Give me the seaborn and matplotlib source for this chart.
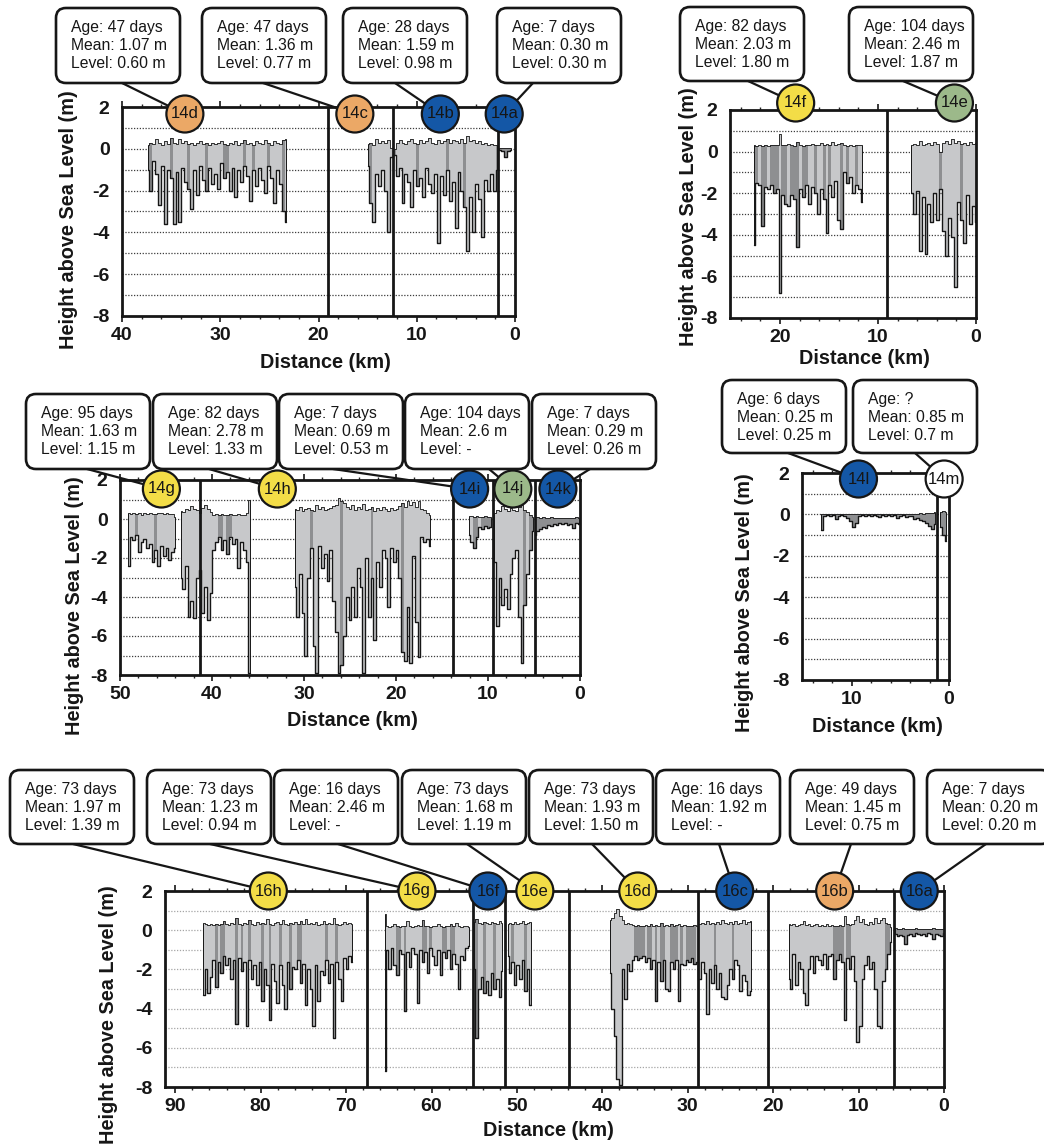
import numpy as np
import pandas as pd
import matplotlib
matplotlib.use("Agg")
import matplotlib.pyplot as plt
import seaborn as sns
from matplotlib.patches import Circle, FancyBboxPatch
from matplotlib.lines import Line2D
from matplotlib.transforms import IdentityTransform
from matplotlib.ticker import MultipleLocator

# ------------------------------------------------------------------
# Ice surface (top) and ice bottom (base) heights above sea level, m,
# sampled every STEP_KM along the track, starting at *_start km.
# Flag strings mark samples classed as level ice ("1").
# ------------------------------------------------------------------
STEP_KM = 0.3

# --- Track 14a-14d ---
a1_start = 37.4
a1_top = [0.2, 0.3, 0.25, 0.45, 0.3, 0.2, 0.35, 0.25, 0.5, 0.3,
          0.25, 0.45, 0.3, 0.35, 0.25, 0.3, 0.2, 0.3, 0.35, 0.25,
          0.3, 0.2, 0.3, 0.25, 0.3, 0.35, 0.25, 0.2, 0.3, 0.25,
          0.35, 0.2, 0.3, 0.4, 0.25, 0.3, 0.2, 0.35, 0.3, 0.25,
          0.4, 0.3, 0.2, 0.35, 0.3, 0.25, 0.4, 0.45]
a1_base = [-1.0, -2.0, -0.6, -1.2, -2.7, -0.8, -3.6, -1.0, -1.4, -3.6,
           -1.1, -3.5, -0.9, -1.6, -1.9, -2.9, -1.0, -2.2, -0.8, -1.5,
           -2.0, -0.9, -1.7, -1.2, -1.9, -0.7, -1.4, -1.1, -2.0, -0.9,
           -2.3, -1.0, -1.6, -0.8, -1.3, -2.5, -1.0, -1.8, -0.9, -1.5,
           -2.1, -0.8, -1.4, -2.6, -1.0, -1.7, -3.0, -3.5]
a1_level = "010000001000001000001000001100000100100001000010"

a2_start = 15.0
a2_top = [0.25, 0.3, 0.2, 0.45, 0.3, 0.35, 0.3, 0.4, 0.05, 0.0,
          0.3, 0.4, 0.3, 0.25, 0.35, 0.45, 0.3, 0.25, 0.4, 0.3,
          0.35, 0.5, 0.3, 0.25, 0.4, 0.3, 0.35, 0.45, 0.3, 0.4,
          0.35, 0.3, 0.45, 0.3, 0.6, 0.35, 0.4, 0.3, 0.35, 0.25,
          0.3, 0.2, 0.25, 0.2, 0.2]
a2_base = [-0.8, -2.6, -3.5, -1.2, -1.8, -1.0, -2.0, -4.0, -0.4, -0.3,
           -1.3, -0.9, -2.6, -1.2, -1.6, -2.8, -1.0, -1.8, -1.4, -2.3,
           -0.9, -1.7, -2.1, -1.2, -4.5, -1.3, -2.2, -1.0, -2.5, -1.6,
           -3.8, -1.1, -2.0, -2.8, -4.9, -2.3, -4.0, -1.7, -2.4, -4.2,
           -1.5, -2.0, -1.2, -2.0, -1.0]
a2_level = "010000000100000001000000000100000100000000001110"

a3_start = 1.6
a3_top = [0.05, 0.05, 0.05, 0.04, 0.05]
a3_base = [-0.05, -0.1, -0.4, -0.1, -0.05]
a3_level = ""

# --- Track 14e-14f ---
b1_start = 22.7
b1_top = [0.3, 0.25, 0.3, 0.25, 0.3, 0.28, 0.3, 0.32, 0.3, 0.85,
          0.3, 0.3, 0.35, 0.3, 0.25, 0.45, 0.3, 0.28, 0.3, 0.3,
          0.35, 0.32, 0.3, 0.4, 0.3, 0.35, 0.3, 0.45, 0.3, 0.35,
          0.4, 0.3, 0.25, 0.3, 0.28, 0.3, 0.3, 0.3]
b1_base = [-4.5, -1.5, -1.6, -3.6, -1.7, -1.8, -1.6, -2.0, -1.8, -6.8,
           -2.1, -2.5, -2.6, -2.1, -2.3, -4.6, -1.8, -2.2, -1.6, -2.5,
           -1.7, -2.0, -3.0, -1.8, -2.3, -3.9, -1.6, -2.2, -1.4, -3.3,
           -3.7, -1.0, -1.5, -1.2, -2.0, -1.6, -1.8, -2.4]
b1_level = "11011011101101110110010010100010100100"

b2_start = 6.6
b2_top = [0.3, 0.35, 0.3, 0.5, 0.3, 0.35, 0.4, 0.3, 0.45, 0.35,
          0.0, 0.4, 0.5, 0.35, 0.6, 0.4, 0.5, 0.35, 0.4, 0.3,
          0.45, 0.35, 0.4]
b2_base = [-2.0, -3.0, -1.9, -4.8, -2.2, -4.9, -2.5, -3.4, -2.0, -3.3,
           -1.8, -3.8, -5.0, -3.2, -4.1, -6.5, -2.4, -3.3, -4.4, -2.1,
           -3.5, -2.6, -3.4]
b2_level = "00000000001000000100000"

# --- Track 14g-14k ---
c1_start = 49.1
c1_top = [0.3, 0.25, 0.3, 0.25, 0.3, 0.2, 0.3, 0.25, 0.3, 0.28,
          0.25, 0.3, 0.3, 0.25, 0.3, 0.28, 0.25, 0.1]
c1_base = [-2.4, -0.9, -1.1, -0.8, -1.7, -1.2, -1.0, -1.5, -1.3, -2.2,
           -1.6, -2.4, -1.4, -1.9, -1.5, -2.1, -1.7, -1.5]
c1_level = "000100000010000000"

c2_start = 43.4
c2_top = [0.4, 0.35, 0.5, 0.45, 0.65, 0.5, 0.45, 0.3, 0.55, 0.7,
          0.5, 0.35, 0.2, 0.25, 0.2, 0.25, 0.2, 0.2, 0.25, 0.2,
          0.2, 0.25, 0.2, 0.2, 0.3, 1.0]
c2_base = [-3.0, -3.6, -2.4, -5.0, -4.2, -5.1, -3.0, -2.6, -4.8, -3.5,
           -5.2, -3.8, -1.6, -1.2, -0.9, -1.6, -1.1, -1.8, -0.9, -1.3,
           -1.0, -2.5, -1.2, -1.6, -2.2, -7.9]
c2_level = "00000000000000110110000000"

c3_start = 31.0
c3_top = [0.5, 0.45, 0.6, 0.4, 0.5, 0.55, 0.45, 0.4, 0.7, 0.5,
          0.6, 0.45, 0.5, 0.55, 0.65, 0.7, 1.1, 0.9, 0.8, 0.6,
          0.5, 0.7, 0.45, 0.6, 0.5, 0.75, 0.45, 0.5, 0.6, 0.4,
          0.55, 0.45, 0.6, 0.5, 0.4, 0.55, 0.45, 0.5, 0.65, 0.8,
          0.6, 0.9, 0.7, 0.85, 0.6, 0.9, 0.5, 0.45, 0.3, 0.2]
c3_base = [-3.5, -5.0, -2.8, -4.8, -7.0, -3.0, -1.5, -6.5, -7.9, -1.4,
           -2.5, -1.8, -3.2, -1.6, -4.2, -5.8, -7.9, -7.5, -6.0, -4.0,
           -5.2, -3.5, -5.0, -2.5, -3.5, -7.9, -2.0, -5.0, -3.0, -6.2,
           -2.2, -3.5, -1.6, -2.0, -4.5, -1.5, -2.2, -1.6, -3.0, -6.8,
           -7.3, -4.5, -7.4, -1.9, -5.3, -7.1, -0.9, -1.2, -1.0, -1.4]
c3_level = "00000010000000000100000000001000000000010000000000"

c4_start = 12.1
c4_top = [0.15, 0.15, 0.1, 0.15, 0.1, 0.1, 0.15, 0.1, 0.1]
c4_base = [-0.8, -1.2, -1.5, -0.9, -0.4, -0.5, -0.35, -0.45, -0.4]
c4_level = "001101111"

c5_start = 9.3
c5_top = [0.3, 0.45, 0.4, 0.65, 0.5, 0.4, 0.55, 0.45, 0.4, 0.6,
          0.7, 0.45, 0.35, 0.2, 0.1]
c5_base = [-2.2, -5.5, -3.0, -4.4, -3.6, -4.6, -2.8, -2.0, -1.6, -5.0,
           -7.4, -4.4, -2.8, -1.6, -0.6]
c5_level = "000000000001011"

c6_start = 4.9
c6_top = [0.08, 0.1, 0.05, 0.08, 0.05, 0.05, 0.08, 0.05, 0.05, 0.06,
          0.05, 0.05, 0.07, 0.05, 0.05, 0.08, 0.05]
c6_base = [-0.8, -0.6, -0.5, -0.4, -0.45, -0.3, -0.35, -0.25, -0.3, -0.2,
           -0.25, -0.2, -0.3, -0.25, -0.45, -0.2, -0.25]
c6_level = ""

# --- Track 14l-14m ---
d1_start = 13.1
d1_top = [0.03, 0.02, 0.03, 0.02, 0.03, 0.02, 0.02, 0.03, 0.02, 0.03,
          0.02, 0.03, 0.02, 0.02, 0.03, 0.02, 0.03, 0.02, 0.02, 0.03,
          0.02, 0.03, 0.02, 0.02, 0.03, 0.02, 0.03, 0.02, 0.02, 0.03,
          0.02, 0.03, 0.04, 0.03, 0.05, 0.04, 0.06, 0.05, 0.08, 0.1]
d1_base = [-0.75, -0.1, -0.05, -0.08, -0.05, -0.2, -0.06, -0.05, -0.1, -0.15,
           -0.3, -0.6, -0.4, -0.1, -0.05, -0.08, -0.05, -0.1, -0.05, -0.06,
           -0.12, -0.05, -0.06, -0.05, -0.1, -0.05, -0.15, -0.06, -0.05, -0.12,
           -0.08, -0.1, -0.2, -0.15, -0.25, -0.3, -0.4, -0.55, -0.7, -0.45]
d1_level = ""

d2_start = 0.9
d2_top = [0.1, 0.15, 0.12]
d2_base = [-0.6, -1.0, -1.3]
d2_level = ""

# --- Track 16a-16h ---
e1_start = 86.7
e1_top = [0.35, 0.3, 0.25, 0.3, 0.28, 0.3, 0.25, 0.3, 0.45, 0.3,
          0.25, 0.35, 0.3, 0.6, 0.3, 0.28, 0.35, 0.3, 0.5, 0.3,
          0.28, 0.4, 0.3, 0.35, 0.3, 0.55, 0.3, 0.28, 0.35, 0.4,
          0.3, 0.5, 0.3, 0.28, 0.35, 0.3, 0.4, 0.3, 0.45, 0.3,
          0.55, 0.3, 0.35, 0.3, 0.4, 0.28, 0.3, 0.45, 0.3, 0.35,
          0.3, 0.6, 0.3, 0.28, 0.3, 0.4, 0.3, 0.35, 0.3]
e1_base = [-3.3, -2.0, -3.2, -2.4, -1.5, -2.9, -1.6, -2.2, -1.3, -1.8,
           -1.4, -2.5, -1.5, -4.8, -1.4, -2.1, -1.6, -4.9, -1.5, -2.5,
           -1.8, -2.8, -1.6, -3.6, -2.0, -2.8, -4.6, -1.7, -2.6, -3.7,
           -1.8, -2.8, -4.0, -1.6, -3.0, -1.9, -2.0, -1.5, -2.7, -1.7,
           -3.8, -2.0, -3.0, -4.9, -1.8, -3.6, -2.1, -2.3, -1.5, -2.7,
           -1.7, -5.5, -1.6, -2.5, -3.6, -1.4, -2.0, -1.3, -1.6]
e1_level = "00000101100001010010000100100010001001100000000010001000000"

e2_start = 65.5
e2_top = [0.85, 0.2, 0.18, 0.2, 0.3, 0.2, 0.18, 0.2, 0.22, 0.45,
          0.2, 0.18, 0.2, 0.25, 0.2, 0.5, 0.2, 0.2, 0.18, 0.22,
          0.2, 0.3, 0.2, 0.18, 0.2, 0.22, 0.3, 0.2, 0.35, 0.2,
          0.18, 0.2, 0.2, 0.18]
e2_base = [-7.2, -1.0, -2.0, -0.9, -1.8, -2.3, -1.0, -1.2, -4.1, -1.1,
           -1.9, -0.9, -1.2, -3.7, -1.0, -1.6, -1.1, -2.2, -0.9, -1.3,
           -1.8, -1.0, -2.3, -1.1, -1.4, -1.0, -2.0, -1.2, -1.7, -3.0,
           -1.3, -1.5, -0.9, -0.8]
e2_level = "0000011010000001101000011011000000"

e3_start = 55.0
e3_top = [0.4, 0.55, 0.35, 0.3, 0.4, 0.35, 0.3, 0.4, 0.35, 0.3, 0.45, 0.35]
e3_base = [-2.0, -5.5, -3.0, -2.4, -3.2, -2.6, -3.3, -2.2, -3.0, -2.5, -3.4, -2.1]
e3_level = "010010001000"

e4_start = 51.1
e4_top = [0.3, 0.35, 0.3, 0.4, 0.3, 0.35, 0.45, 0.3, 0.35, 0.4]
e4_base = [-1.3, -2.2, -1.6, -2.8, -1.8, -2.5, -1.5, -3.1, -2.0, -3.8]
e4_level = "0010000100"

e5_start = 39.1
e5_top = [0.5, 0.6, 0.9, 1.07, 0.7, 0.5, 0.3, 0.35, 0.3, 0.25,
          0.22, 0.25, 0.22, 0.2, 0.25, 0.22, 0.3, 0.22, 0.25, 0.2,
          0.35, 0.22, 0.25, 0.22, 0.3, 0.22, 0.25, 0.3, 0.22, 0.25,
          0.22, 0.2, 0.22, 0.25, 0.22, 0.3, 0.35, 0.3, 0.45, 0.3,
          0.35, 0.3, 0.4, 0.3, 0.5, 0.35, 0.3, 0.4, 0.3, 0.45,
          0.3, 0.35, 0.5, 0.3, 0.4, 0.45]
e5_base = [-2.2, -4.0, -5.4, -7.6, -7.9, -2.0, -3.5, -1.7, -2.1, -1.5,
           -1.3, -1.5, -1.4, -1.3, -1.6, -1.4, -2.0, -1.5, -3.6, -1.6,
           -2.6, -1.5, -3.0, -3.1, -1.6, -2.0, -1.5, -3.6, -1.7, -1.8,
           -1.5, -1.6, -1.4, -1.7, -1.6, -2.5, -1.6, -2.2, -4.3, -2.0,
           -2.7, -1.8, -3.0, -2.2, -3.4, -3.5, -2.8, -2.0, -2.5, -1.5,
           -1.8, -3.1, -2.3, -2.6, -3.3, -3.1]
e5_level = "00000000001111011010110011101011110000000100000010000000"

e6_start = 18.2
e6_top = [0.3, 0.25, 0.3, 0.22, 0.25, 0.3, 0.45, 0.25, 0.3, 0.22,
          0.25, 0.3, 0.22, 0.25, 0.2, 0.3, 0.22, 0.25, 0.2, 0.22,
          0.25, 0.2, 0.75, 0.3, 0.25, 0.3, 0.5, 0.75, 0.4, 0.55,
          0.3, 0.25, 0.4, 0.3, 0.6, 0.35, 0.5, 0.6, 0.35, 0.3,
          0.15]
e6_base = [-2.5, -3.0, -1.2, -2.8, -1.6, -2.0, -3.2, -3.8, -2.0, -1.3,
           -2.2, -1.3, -1.5, -1.8, -1.2, -2.0, -1.3, -1.2, -2.5, -1.5,
           -1.2, -1.6, -4.6, -1.4, -2.0, -1.3, -2.6, -5.7, -4.9, -2.5,
           -1.8, -1.3, -2.0, -1.6, -3.0, -4.9, -5.0, -2.6, -2.0, -1.2,
           -0.6]
e6_level = "000000000000000000111101100000000000001101"

e7_start = 5.7
e7_top = [0.1, 0.08, 0.05, 0.1, 0.05, 0.08, 0.05, 0.06, 0.1, 0.05,
          0.05, 0.08, 0.05, 0.06, 0.05, 0.1, 0.05, 0.06, 0.05, 0.08]
e7_base = [-0.2, -0.3, -0.25, -0.3, -0.7, -0.25, -0.2, -0.3, -0.15, -0.2,
           -0.25, -0.2, -0.3, -0.15, -0.2, -0.45, -0.2, -0.25, -0.3, -0.15]
e7_level = ""

# Site labels, positions along track (km) and summary statistics
sites_a = ["14d", "14c", "14b", "14a"]
site_km_a = [33.6, 16.3, 7.6, 1.1]
age_a = ["47 days", "47 days", "28 days", "7 days"]
mean_a = ["1.07 m", "1.36 m", "1.59 m", "0.30 m"]
level_a = ["0.60 m", "0.77 m", "0.98 m", "0.30 m"]
bounds_a = [19.0, 12.4, 1.7]

sites_b = ["14f", "14e"]
site_km_b = [18.4, 2.2]
age_b = ["82 days", "104 days"]
mean_b = ["2.03 m", "2.46 m"]
level_b = ["1.80 m", "1.87 m"]
bounds_b = [9.1]

sites_c = ["14g", "14h", "14i", "14j", "14k"]
site_km_c = [45.5, 32.9, 12.0, 7.3, 2.4]
age_c = ["95 days", "82 days", "7 days", "104 days", "7 days"]
mean_c = ["1.63 m", "2.78 m", "0.69 m", "2.6 m", "0.29 m"]
level_c = ["1.15 m", "1.33 m", "0.53 m", "-", "0.26 m"]
bounds_c = [41.3, 13.8, 9.5, 4.9]

sites_d = ["14l", "14m"]
site_km_d = [9.3, 0.5]
age_d = ["6 days", "?"]
mean_d = ["0.25 m", "0.85 m"]
level_d = ["0.25 m", "0.7 m"]
bounds_d = [1.2]

sites_e = ["16h", "16g", "16f", "16e", "16d", "16c", "16b", "16a"]
site_km_e = [79.1, 61.7, 53.4, 47.9, 35.85, 24.5, 12.8, 2.9]
age_e = ["73 days", "73 days", "16 days", "73 days", "73 days", "16 days", "49 days", "7 days"]
mean_e = ["1.97 m", "1.23 m", "2.46 m", "1.68 m", "1.93 m", "1.92 m", "1.45 m", "0.20 m"]
level_e = ["1.39 m", "0.94 m", "-", "1.19 m", "1.50 m", "-", "0.75 m", "0.20 m"]
bounds_e = [67.5, 55.2, 51.4, 43.85, 28.8, 20.6, 5.9]

# ------------------------------------------------------------------
# Styling
# ------------------------------------------------------------------
sns.set_theme(style="white")
plt.rcParams["font.family"] = ["Liberation Sans", "DejaVu Sans"]
plt.rcParams["axes.unicode_minus"] = False

INK = "#161616"
LIGHT = "#c7c8ca"
DARK = "#8e8f91"
ORANGE = "#EBA866"
BLUE = "#1457A6"
YELLOW = "#F3DD47"
GREEN = "#9CB98A"
WHITE = "#FFFFFF"

W, H = 1044, 1144
fig = plt.figure(figsize=(W / 100, H / 100), dpi=100)
fig.patch.set_facecolor("white")
PIX = IdentityTransform()


def disp(px, py):
    """Image pixel (from top-left) -> display coords."""
    return px, H - py


PANELS = [
    dict(rect=(122, 107, 515, 316), xlim=(40, 0), xticks=[40, 30, 20, 10, 0],
         segs=[(a1_start, a1_top, a1_base, a1_level, LIGHT),
               (a2_start, a2_top, a2_base, a2_level, LIGHT),
               (a3_start, a3_top, a3_base, a3_level, DARK)],
         bounds=bounds_a, grid="#3c3c3c", ylab=(69, 220), xlab=(325, 362),
         sites=sites_a, km=site_km_a, age=age_a, mean=mean_a, level=level_a,
         colors=[ORANGE, ORANGE, BLUE, BLUE], cdy=7,
         box_top=8, box_h=75, box_left=[56, 202, 343, 497], anchor=[122, 263, 395, 533]),
    dict(rect=(730, 110, 976, 318), xlim=(25.1, 0), xticks=[20, 10, 0],
         segs=[(b1_start, b1_top, b1_base, b1_level, LIGHT),
               (b2_start, b2_top, b2_base, b2_level, LIGHT)],
         bounds=bounds_b, grid="#3c3c3c", ylab=(688, 217), xlab=(864, 359),
         sites=sites_b, km=site_km_b, age=age_b, mean=mean_b, level=level_b,
         colors=[YELLOW, GREEN], cdy=-7,
         box_top=7, box_h=74, box_left=[680, 849], anchor=[748, 903]),
    dict(rect=(120, 480, 580, 675), xlim=(50, 0), xticks=[50, 40, 30, 20, 10, 0],
         segs=[(c1_start, c1_top, c1_base, c1_level, LIGHT),
               (c2_start, c2_top, c2_base, c2_level, LIGHT),
               (c3_start, c3_top, c3_base, c3_level, LIGHT),
               (c4_start, c4_top, c4_base, c4_level, LIGHT),
               (c5_start, c5_top, c5_base, c5_level, LIGHT),
               (c6_start, c6_top, c6_base, c6_level, DARK)],
         bounds=bounds_c, grid="#3c3c3c", ylab=(74, 606), xlab=(352, 720),
         sites=sites_c, km=site_km_c, age=age_c, mean=mean_c, level=level_c,
         colors=[YELLOW, YELLOW, BLUE, GREEN, BLUE], cdy=9,
         box_top=394, box_h=75, box_left=[26, 153, 279, 405, 532],
         anchor=[87, 209, 333, 489, 590]),
    dict(rect=(802, 473, 949, 680), xlim=(15.1, 0), xticks=[10, 0],
         segs=[(d1_start, d1_top, d1_base, d1_level, DARK),
               (d2_start, d2_top, d2_base, d2_level, DARK)],
         bounds=bounds_d, grid="#3c3c3c", ylab=(745, 603), xlab=(877, 727),
         sites=sites_d, km=site_km_d, age=age_d, mean=mean_d, level=level_d,
         colors=[BLUE, WHITE], cdy=6,
         box_top=380, box_h=73, box_left=[722, 853], anchor=[788, 915]),
    dict(rect=(165, 891, 944, 1087), xlim=(91.2, 0), xticks=[90, 80, 70, 60, 50, 40, 30, 20, 10, 0],
         segs=[(e1_start, e1_top, e1_base, e1_level, LIGHT),
               (e2_start, e2_top, e2_base, e2_level, LIGHT),
               (e3_start, e3_top, e3_base, e3_level, LIGHT),
               (e4_start, e4_top, e4_base, e4_level, LIGHT),
               (e5_start, e5_top, e5_base, e5_level, LIGHT),
               (e6_start, e6_top, e6_base, e6_level, LIGHT),
               (e7_start, e7_top, e7_base, e7_level, DARK)],
         bounds=bounds_e, grid="#a5a5a5", ylab=(108, 1015), xlab=(548, 1131),
         sites=sites_e, km=site_km_e, age=age_e, mean=mean_e, level=level_e,
         colors=[YELLOW, YELLOW, BLUE, YELLOW, YELLOW, BLUE, ORANGE, BLUE], cdy=0,
         box_top=770, box_h=74, box_left=[10, 147, 274, 402, 529, 656, 790, 927],
         anchor=[73, 210, 338, 467, 592, 719, 851, 986]),
]

GRID_LEVELS = [1, 0, -1, -2, -3, -4, -5, -6, -7]
YTICKS = [2, 0, -2, -4, -6, -8]


def draw_segment(ax, start, top, base, flags, fill):
    top = np.asarray(top, float)
    base = np.asarray(base, float)
    x = start - STEP_KM * np.arange(len(top))
    ax.fill_between(x, base, top, step="mid", color=fill, lw=0, zorder=2)
    half = STEP_KM / 2
    for i, f in enumerate(flags[:len(x)]):
        if f == "1":
            x0 = min(x[i] + half, x[0])
            x1 = max(x[i] - half, x[-1])
            ax.fill_between([x0, x1], [base[i]] * 2, [top[i]] * 2,
                            color=DARK, lw=0, zorder=2.5)
    df = pd.DataFrame({"km": x, "surface": top, "bottom": base})
    sns.lineplot(data=df, x="km", y="surface", ax=ax, color=INK, lw=0.6,
                 drawstyle="steps-mid", estimator=None, sort=False, zorder=3)
    sns.lineplot(data=df, x="km", y="bottom", ax=ax, color=INK, lw=1.0,
                 drawstyle="steps-mid", estimator=None, sort=False, zorder=3)
    ax.vlines([x[0], x[-1]], [base[0], base[-1]], [top[0], top[-1]],
              color=INK, lw=0.7, zorder=3)


for p in PANELS:
    l, t, r, b = p["rect"]
    ax = fig.add_axes([l / W, 1 - b / H, (r - l) / W, (b - t) / H])
    ax.set_facecolor("white")
    for lvl in GRID_LEVELS:
        ax.axhline(lvl, color=p["grid"], lw=0.9, ls=(0, (1, 1.3)), zorder=1)
    for seg in p["segs"]:
        draw_segment(ax, *seg)
    for km in p["bounds"]:
        ax.axvline(km, color=INK, lw=2.0, zorder=4)

    ax.set_xlim(*p["xlim"])
    ax.set_ylim(-8, 2)
    ax.set_xlabel("")
    ax.set_ylabel("")
    ax.set_yticks(YTICKS)
    ax.set_yticklabels([str(v) for v in YTICKS], fontsize=14, fontweight="bold")
    ax.set_xticks(p["xticks"])
    ax.set_xticklabels([str(v) for v in p["xticks"]], fontsize=14, fontweight="bold")
    ax.xaxis.set_minor_locator(MultipleLocator(2))
    ax.tick_params(axis="y", length=0, pad=9, colors=INK)
    ax.tick_params(axis="x", which="major", length=4, width=1.2, direction="out",
                   top=True, bottom=True, pad=4, colors=INK)
    ax.tick_params(axis="x", which="minor", length=2.5, width=1.0, direction="out",
                   top=True, bottom=True)
    for s in ax.spines.values():
        s.set_linewidth(2.0)
        s.set_color(INK)
        s.set_zorder(5)

    xl, yl = p["ylab"]
    fig.text(*disp(xl, yl), "Height above Sea Level (m)", transform=PIX,
             rotation=90, ha="center", va="center", fontsize=14.3,
             fontweight="bold", color=INK)
    xl, yl = p["xlab"]
    fig.text(*disp(xl, yl), "Distance (km)", transform=PIX, ha="center",
             va="center", fontsize=14.3, fontweight="bold", color=INK)

    # callout boxes, leader lines and site markers
    bw, bh, bt = 124, p["box_h"], p["box_top"]
    for k, name in enumerate(p["sites"]):
        cx, cy = ax.transData.transform((p["km"][k], 2))
        cy -= p["cdy"]
        bl = p["box_left"][k]
        ax_, ay_ = disp(p["anchor"][k], bt + bh)
        fig.add_artist(Line2D([ax_, cx], [ay_, cy], transform=PIX, color=INK,
                              lw=1.6, zorder=10))
        fig.add_artist(FancyBboxPatch(disp(bl, bt + bh), bw, bh,
                                      boxstyle="round,pad=0,rounding_size=10",
                                      transform=PIX, fc="white", ec=INK,
                                      lw=1.9, zorder=11))
        lines = [f"Age: {p['age'][k]}", f"Mean: {p['mean'][k]}",
                 f"Level: {p['level'][k]}"]
        for j, s in enumerate(lines):
            fig.text(*disp(bl + 15, bt + 19.5 + 18 * j), s, transform=PIX,
                     ha="left", va="center", fontsize=11.3, color=INK, zorder=12)
        fig.add_artist(Circle((cx, cy), 18.5, transform=PIX, fc=p["colors"][k],
                              ec=INK, lw=1.6, zorder=13))
        fig.text(cx, cy, name, transform=PIX, ha="center", va="center",
                 fontsize=12, color=INK, zorder=14)

fig.savefig("out.png", dpi=100, facecolor="white")
